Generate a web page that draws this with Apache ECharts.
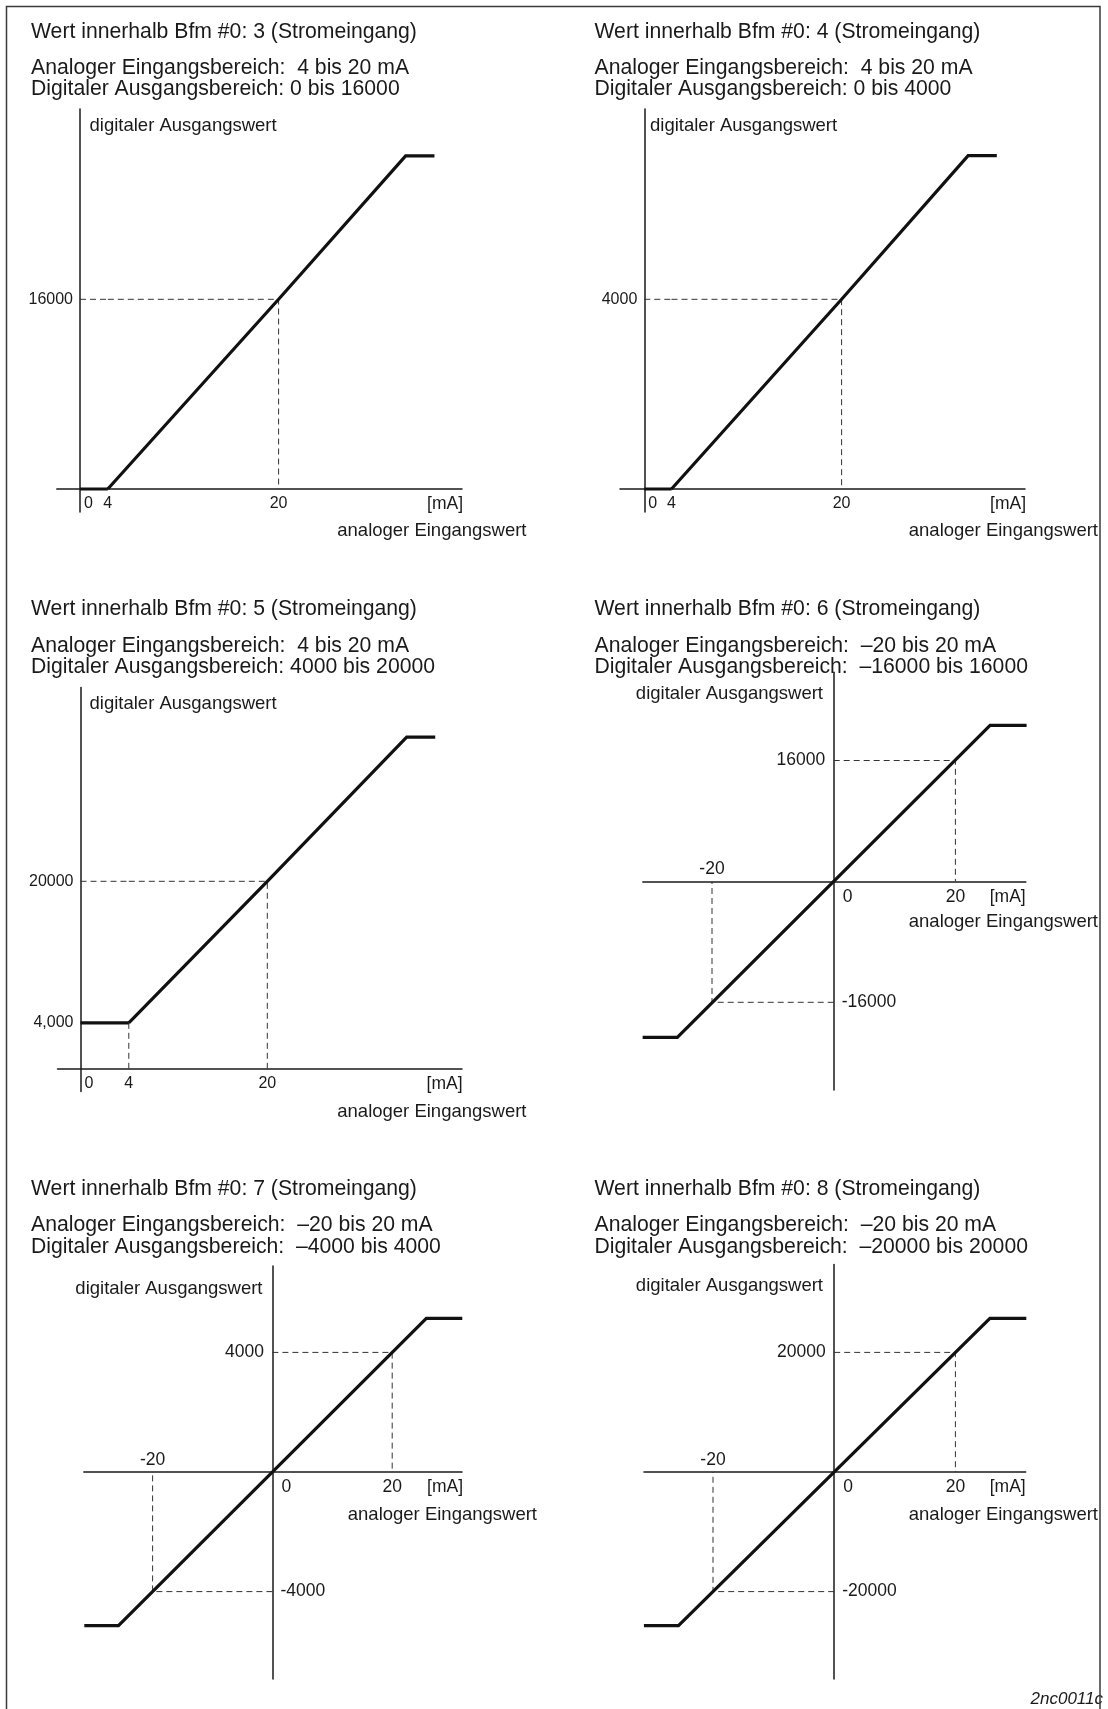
<!DOCTYPE html>
<html>
<head>
<meta charset="utf-8">
<script src="https://cdn.jsdelivr.net/npm/echarts@6/dist/echarts.min.js"></script>
<style>
html,body{margin:0;padding:0;background:#fff;}
#c{width:1108px;height:1709px;}
</style>
</head>
<body>
<div id="c"></div>
<script>
// ================= DATA =================
const panelTitles = [
  'Wert innerhalb Bfm #0: 3 (Stromeingang)',
  'Wert innerhalb Bfm #0: 4 (Stromeingang)',
  'Wert innerhalb Bfm #0: 5 (Stromeingang)',
  'Wert innerhalb Bfm #0: 6 (Stromeingang)',
  'Wert innerhalb Bfm #0: 7 (Stromeingang)',
  'Wert innerhalb Bfm #0: 8 (Stromeingang)'
];
const analogRanges = [
  'Analoger Eingangsbereich:  4 bis 20 mA',
  'Analoger Eingangsbereich:  4 bis 20 mA',
  'Analoger Eingangsbereich:  4 bis 20 mA',
  'Analoger Eingangsbereich:  \u201320 bis 20 mA',
  'Analoger Eingangsbereich:  \u201320 bis 20 mA',
  'Analoger Eingangsbereich:  \u201320 bis 20 mA'
];
const digitalRanges = [
  'Digitaler Ausgangsbereich: 0 bis 16000',
  'Digitaler Ausgangsbereich: 0 bis 4000',
  'Digitaler Ausgangsbereich: 4000 bis 20000',
  'Digitaler Ausgangsbereich:  \u201316000 bis 16000',
  'Digitaler Ausgangsbereich:  \u20134000 bis 4000',
  'Digitaler Ausgangsbereich:  \u201320000 bis 20000'
];
const yAxisName = 'digitaler Ausgangswert';
const xAxisName = 'analoger Eingangswert';
const xUnit = '[mA]';
const figureId = '2nc0011c';

// Bfm #0 = 3 : 4..20 mA -> 0..16000
const mode3X = [0, 4, 20, 31.9, 34.6];
const mode3Y = [0, 0, 16000, 28100, 28100];
const mode3RefX = [20];
const mode3RefY = [16000];
const mode3XTicks = [0, 4, 20];
const mode3XTickLabels = ['0', '4', '20'];
const mode3YTicks = [16000];
const mode3YTickLabels = ['16000'];

// Bfm #0 = 4 : 4..20 mA -> 0..4000
const mode4X = [0, 4, 20, 31.9, 34.6];
const mode4Y = [0, 0, 4000, 7030, 7030];
const mode4RefX = [20];
const mode4RefY = [4000];
const mode4XTicks = [0, 4, 20];
const mode4XTickLabels = ['0', '4', '20'];
const mode4YTicks = [4000];
const mode4YTickLabels = ['4000'];

// Bfm #0 = 5 : 4..20 mA -> 4000..20000
const mode5X = [0, 4, 20, 36.1, 39.4];
const mode5Y = [4000, 4000, 20000, 36300, 36300];
const mode5RefX = [20];
const mode5RefY = [20000];
const mode5XTicks = [0, 4, 20];
const mode5XTickLabels = ['0', '4', '20'];
const mode5YTicks = [4000, 20000];
const mode5YTickLabels = ['4,000', '20000'];

// Bfm #0 = 6 : -20..20 mA -> -16000..16000
const mode6X = [-31.4, -25.7, 25.7, 31.7];
const mode6Y = [-20650, -20650, 20650, 20650];
const mode6RefX = [-20, 20];
const mode6RefY = [-16000, 16000];
const mode6XTicks = [-20, 0, 20];
const mode6XTickLabels = ['-20', '0', '20'];
const mode6YTicks = [-16000, 16000];
const mode6YTickLabels = ['-16000', '16000'];

// Bfm #0 = 7 : -20..20 mA -> -4000..4000
const mode7X = [-31.4, -25.7, 25.7, 31.7];
const mode7Y = [-5140, -5140, 5140, 5140];
const mode7RefX = [-20, 20];
const mode7RefY = [-4000, 4000];
const mode7XTicks = [-20, 0, 20];
const mode7XTickLabels = ['-20', '0', '20'];
const mode7YTicks = [-4000, 4000];
const mode7YTickLabels = ['-4000', '4000'];

// Bfm #0 = 8 : -20..20 mA -> -20000..20000
const mode8X = [-31.4, -25.7, 25.7, 31.7];
const mode8Y = [-25700, -25700, 25700, 25700];
const mode8RefX = [-20, 20];
const mode8RefY = [-20000, 20000];
const mode8XTicks = [-20, 0, 20];
const mode8XTickLabels = ['-20', '0', '20'];
const mode8YTicks = [-20000, 20000];
const mode8YTickLabels = ['-20000', '20000'];

// ================= LAYOUT (pixels) =================
const FONT = '"Liberation Sans", Arial, Helvetica, sans-serif';
const INK = '#1a1a1a';
const titleX = [31, 594.5];
const titleRowsY = [[32.6, 68.2, 88.7], [609, 646, 666.8], [1189.6, 1225.2, 1246.7]];

const layouts = {
  m3: {axisX: 80, axisY: 489, top: 109, bottom: 512, left: 56.8, right: 462,
       xCal: [[4, 107.8], [20, 278.6]], yCal: [[0, 489], [16000, 299.3]],
       unit: [463, 504], xName: [526.5, 530.5, 'right'], yName: [89.5, 125.5, 'left']},
  m4: {axisX: 644.3, axisY: 489, top: 109, bottom: 512, left: 620, right: 1025,
       xCal: [[4, 671.5], [20, 841.6]], yCal: [[0, 489], [4000, 299.3]],
       unit: [1026, 504], xName: [1098, 530.5, 'right'], yName: [650, 125.5, 'left']},
  m5: {axisX: 80.5, axisY: 1068.6, top: 687.6, bottom: 1091.6, left: 57.5, right: 462,
       xCal: [[4, 128.8], [20, 267.3]], yCal: [[4000, 1022.8], [20000, 881.3]],
       unit: [462.5, 1084], xName: [526.5, 1111.5, 'right'], yName: [89.5, 704, 'left']},
  m6: {top: 672.2, bottom: 1090, left: 642.8, right: 1025.8,
       xCal: [[-20, 712], [20, 955.4]], yCal: [[-16000, 1002.3], [16000, 760.5]],
       unit: [1025.7, 897], xName: [1098, 921.5, 'right'], yName: [823, 693.5, 'right']},
  m7: {top: 1266, bottom: 1679, left: 83.8, right: 462,
       xCal: [[-20, 152.6], [20, 392.2]], yCal: [[-4000, 1591.6], [4000, 1352.4]],
       unit: [463, 1487], xName: [537, 1515, 'right'], yName: [262.5, 1289, 'right']},
  m8: {top: 1264.5, bottom: 1679, left: 644, right: 1025.7,
       xCal: [[-20, 713], [20, 955.4]], yCal: [[-20000, 1591.6], [20000, 1352.4]],
       unit: [1025.7, 1487], xName: [1098, 1515, 'right'], yName: [823, 1285.5, 'right']}
};

// ================= BUILD =================
const grids = [], xAxes = [], yAxes = [], series = [], graphics = [];
const axisLineStyle = {color: INK, width: 1.5};
const labelUni = {fontSize: 16, color: INK, fontFamily: FONT};
const labelBi = {fontSize: 17.5, color: INK, fontFamily: FONT};

function lin(a, b) {
  const k = (b[1] - a[1]) / (b[0] - a[0]);
  return {px: v => a[1] + (v - a[0]) * k, val: p => a[0] + (p - a[1]) / k};
}
function lookup(ticks, labels) {
  return v => {
    const i = ticks.findIndex(t => Math.abs(t - v) <= 1e-6 * Math.max(1, Math.abs(t)));
    return i >= 0 ? labels[i] : '';
  };
}
function zip(xs, ys) { return xs.map((x, i) => [x, ys[i]]); }
function solid(xi, yi, data) {
  return {type: 'line', xAxisIndex: xi, yAxisIndex: yi, data, symbol: 'none', silent: true,
    clip: false, z: 5, lineStyle: {color: '#111', width: 3.2, cap: 'butt', join: 'miter'}};
}
function dashed(xi, yi, data) {
  return {type: 'line', xAxisIndex: xi, yAxisIndex: yi, data, symbol: 'none', silent: true,
    clip: false, z: 3, lineStyle: {color: '#333', width: 1, type: [6, 4]}};
}
const noTick = {show: false};
const noSplit = {show: false};
function gridOf(left, top, width, height) {
  return {left, top, width, height, containLabel: false, outerBoundsMode: 'none'};
}

function addUnipolar(L, D) {
  const sx = lin(L.xCal[0], L.xCal[1]);
  const sy = lin(L.yCal[0], L.yCal[1]);
  const h = L.bottom - L.top;
  const yMin = sy.val(L.bottom), yMax = sy.val(L.top);
  const base = sy.val(L.axisY);           // value where the x axis line crosses
  const x0 = D.x[0], xk = D.x[1], yk = D.y[1];
  const fx = lookup(D.xTicks, D.xTickLabels);
  const fy = lookup(D.yTicks, D.yTickLabels);

  const gA = grids.length;
  grids.push(gridOf(L.left, L.top, L.right - L.left, h));
  const gB = grids.length;
  grids.push(gridOf(L.axisX, L.top, sx.px(xk) - L.axisX, h));

  const xa = xAxes.length;
  xAxes.push({gridIndex: gA, type: 'value', min: sx.val(L.left), max: sx.val(L.right), position: 'bottom',
    offset: L.axisY - L.bottom, axisLine: {show: true, onZero: false, lineStyle: axisLineStyle},
    axisTick: noTick, splitLine: noSplit,
    axisLabel: Object.assign({}, labelUni, {margin: 7, customValues: D.xTicks.filter(v => v >= xk), formatter: fx})});
  const xb = xAxes.length;
  xAxes.push({gridIndex: gB, type: 'value', min: x0, max: xk, position: 'bottom',
    offset: L.axisY - L.bottom, axisLine: {show: false, onZero: false},
    axisTick: noTick, splitLine: noSplit,
    axisLabel: Object.assign({}, labelUni, {margin: 7, align: 'left', padding: [0, 0, 0, 4],
      customValues: D.xTicks.filter(v => v < xk), formatter: fx})});
  const ya = yAxes.length;
  yAxes.push({gridIndex: gA, type: 'value', min: yMin, max: yMax, position: 'left',
    offset: L.left - L.axisX, axisLine: {show: true, onZero: false, lineStyle: axisLineStyle},
    axisTick: noTick, splitLine: noSplit,
    axisLabel: Object.assign({}, labelUni, {margin: 7, customValues: D.yTicks, formatter: fy})});
  const yb = yAxes.length;
  yAxes.push({gridIndex: gB, type: 'value', min: yMin, max: yMax, show: false});

  const rx = D.refX[0], ry = D.refY[0];
  series.push(dashed(xb, yb, [[x0, ry], [xk, ry]]));
  series.push(dashed(xa, ya, [[xk, ry], [rx, ry], [rx, base]]));
  if (Math.abs(yk - base) > 1e-6) series.push(dashed(xa, ya, [[xk, yk], [xk, base]]));
  series.push(solid(xb, yb, zip(D.x.slice(0, 2), D.y.slice(0, 2))));
  series.push(solid(xa, ya, zip(D.x.slice(1), D.y.slice(1))));
}

function addBipolar(L, D) {
  const sx = lin(L.xCal[0], L.xCal[1]);
  const sy = lin(L.yCal[0], L.yCal[1]);
  const xMin = sx.val(L.left), xMax = sx.val(L.right);
  const yMin = sy.val(L.bottom), yMax = sy.val(L.top);
  const ax = sx.px(0), ay = sy.px(0);     // where the axes cross (value 0 / 0)
  const fx = lookup(D.xTicks, D.xTickLabels);
  const fy = lookup(D.yTicks, D.yTickLabels);
  const g = grids.length;
  grids.push(gridOf(L.left, L.top, L.right - L.left, L.bottom - L.top));
  const xa = xAxes.length;
  xAxes.push({gridIndex: g, type: 'value', min: xMin, max: xMax, position: 'bottom',
    offset: ay - L.bottom,
    axisLine: {show: true, onZero: false, lineStyle: axisLineStyle}, axisTick: noTick, splitLine: noSplit,
    axisLabel: Object.assign({}, labelBi, {margin: 6.5, customValues: D.xTicks.filter(v => v >= 0),
      formatter: v => Math.abs(v) < 1e-9 ? '{z|' + fx(v) + '}' : fx(v),
      rich: {z: Object.assign({}, labelBi, {padding: [0, 0, 0, 28]})}})});
  xAxes.push({gridIndex: g, type: 'value', min: xMin, max: xMax, position: 'top',
    offset: L.top - ay,
    axisLine: {show: false, onZero: false}, axisTick: noTick, splitLine: noSplit,
    axisLabel: Object.assign({}, labelBi, {margin: 3, customValues: D.xTicks.filter(v => v < 0), formatter: fx})});
  const ya = yAxes.length;
  yAxes.push({gridIndex: g, type: 'value', min: yMin, max: yMax, position: 'left',
    offset: L.left - ax,
    axisLine: {show: true, onZero: false, lineStyle: axisLineStyle}, axisTick: noTick, splitLine: noSplit,
    axisLabel: Object.assign({}, labelBi, {margin: 8.5, customValues: D.yTicks.filter(v => v > 0), formatter: fy})});
  yAxes.push({gridIndex: g, type: 'value', min: yMin, max: yMax, position: 'right',
    offset: ax - L.right,
    axisLine: {show: false, onZero: false}, axisTick: noTick, splitLine: noSplit,
    axisLabel: Object.assign({}, labelBi, {margin: 8, customValues: D.yTicks.filter(v => v < 0), formatter: fy})});
  D.refX.forEach((rx, i) => {
    const ry = D.refY[i];
    series.push(dashed(xa, ya, [[0, ry], [rx, ry], [rx, 0]]));
  });
  series.push(solid(xa, ya, zip(D.x, D.y)));
}

function text(x, y, str, size, align, extra) {
  graphics.push({type: 'text', x, y, silent: true, z: 10,
    style: Object.assign({text: str, fill: INK, fontSize: size, fontFamily: FONT,
      align, textAlign: align, verticalAlign: 'middle', textVerticalAlign: 'middle'}, extra || {})});
}
function addNames(L) {
  text(L.unit[0], L.unit[1], xUnit, 17.5, 'right');
  text(L.xName[0], L.xName[1], xAxisName, 18.5, L.xName[2]);
  text(L.yName[0], L.yName[1], yAxisName, 18.5, L.yName[2]);
}

addUnipolar(layouts.m3, {x: mode3X, y: mode3Y, refX: mode3RefX, refY: mode3RefY,
  xTicks: mode3XTicks, xTickLabels: mode3XTickLabels, yTicks: mode3YTicks, yTickLabels: mode3YTickLabels});
addUnipolar(layouts.m4, {x: mode4X, y: mode4Y, refX: mode4RefX, refY: mode4RefY,
  xTicks: mode4XTicks, xTickLabels: mode4XTickLabels, yTicks: mode4YTicks, yTickLabels: mode4YTickLabels});
addUnipolar(layouts.m5, {x: mode5X, y: mode5Y, refX: mode5RefX, refY: mode5RefY,
  xTicks: mode5XTicks, xTickLabels: mode5XTickLabels, yTicks: mode5YTicks, yTickLabels: mode5YTickLabels});
addBipolar(layouts.m6, {x: mode6X, y: mode6Y, refX: mode6RefX, refY: mode6RefY,
  xTicks: mode6XTicks, xTickLabels: mode6XTickLabels, yTicks: mode6YTicks, yTickLabels: mode6YTickLabels});
addBipolar(layouts.m7, {x: mode7X, y: mode7Y, refX: mode7RefX, refY: mode7RefY,
  xTicks: mode7XTicks, xTickLabels: mode7XTickLabels, yTicks: mode7YTicks, yTickLabels: mode7YTickLabels});
addBipolar(layouts.m8, {x: mode8X, y: mode8Y, refX: mode8RefX, refY: mode8RefY,
  xTicks: mode8XTicks, xTickLabels: mode8XTickLabels, yTicks: mode8YTicks, yTickLabels: mode8YTickLabels});
['m3', 'm4', 'm5', 'm6', 'm7', 'm8'].forEach(k => addNames(layouts[k]));

// titles
panelTitles.forEach((t, i) => {
  const col = i % 2, row = Math.floor(i / 2);
  const ys = titleRowsY[row];
  text(titleX[col], ys[0], t, 21.2, 'left');
  text(titleX[col], ys[1], analogRanges[i], 21.2, 'left');
  text(titleX[col], ys[2], digitalRanges[i], 21.2, 'left');
});
// figure id and page frame
text(1103, 1699, figureId, 17, 'right', {fontStyle: 'italic'});
graphics.push({type: 'rect', silent: true, z: 11, shape: {x: 6.5, y: 6.5, width: 1093.5, height: 1740},
  style: {fill: 'none', stroke: '#3a3a3a', lineWidth: 1.5}});

const chart = echarts.init(document.getElementById('c'), null, {renderer: 'canvas', width: 1108, height: 1709});
chart.setOption({
  animation: false,
  backgroundColor: '#ffffff',
  textStyle: {fontFamily: FONT},
  grid: grids,
  xAxis: xAxes,
  yAxis: yAxes,
  series: series,
  graphic: {elements: graphics}
});
</script>
</body>
</html>
